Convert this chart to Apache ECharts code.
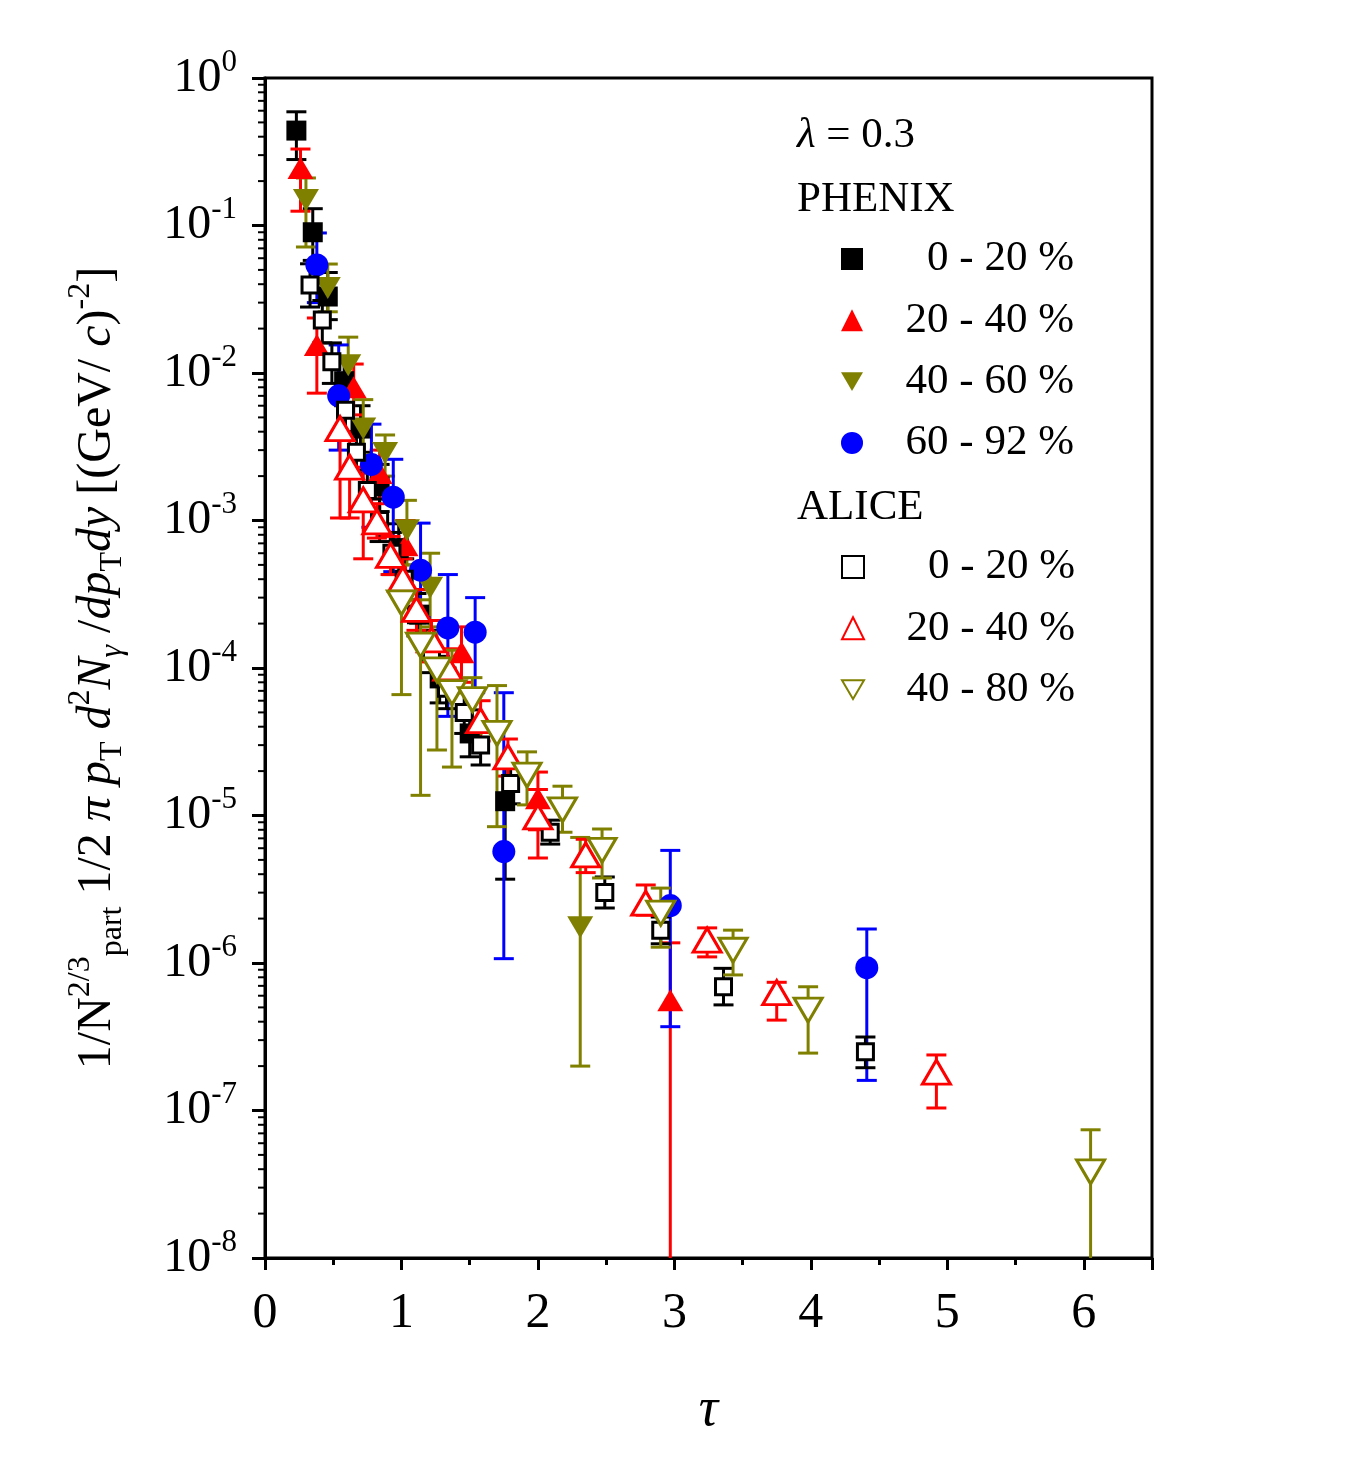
<!DOCTYPE html>
<html>
<head>
<meta charset="utf-8">
<script src="https://cdn.jsdelivr.net/npm/echarts@6/dist/echarts.min.js"></script>
<style>
  html, body { margin: 0; padding: 0; background: #fff; }
  #chart { width: 1361px; height: 1478px; }
</style>
</head>
<body>
<div id="chart"></div>
<script>
// rows: [tau, value, error low, error high]
var phenix0020 = [
  [0.23, 0.44, 0.28, 0.59],
  [0.35, 0.090, 0.058, 0.13],
  [0.46, 0.033, 0.023, 0.048],
  [0.58, 8.8e-3, 6.0e-3, 1.25e-2],
  [0.70, 4.2e-3, 2.9e-3, 6.0e-3],
  [0.84, 1.7e-3, 1.15e-3, 2.4e-3],
  [0.98, 6.5e-4, 4.4e-4, 9.5e-4],
  [1.13, 2.3e-4, 1.6e-4, 3.4e-4],
  [1.28, 8.5e-5, 5.8e-5, 1.2e-4],
  [1.50, 3.6e-5, 2.5e-5, 5.2e-5],
  [1.76, 1.25e-5, 3.7e-6, 2.1e-5]
]
var phenix2040 = [
  [0.26, 0.245, 0.125, 0.33],
  [0.38, 0.0155, 0.0073, 0.0236],
  [0.65, 8.0e-3, 5.2e-3, 1.15e-2],
  [0.84, 2.1e-3, 1.4e-3, 3.0e-3],
  [1.03, 6.8e-4, 4.4e-4, 1.0e-3],
  [1.44, 1.28e-4, 8.0e-5, 1.9e-4],
  [2.00, 1.31e-5, 8.0e-6, 1.97e-5],
  [2.97, 5.6e-7, 1e-8, 1.37e-6]
]
var phenix4060 = [
  [0.30, 0.149, 0.0715, 0.21],
  [0.46, 0.0377, 0.026, 0.0548],
  [0.61, 0.0113, 0.0075, 0.0175],
  [0.72, 4.2e-3, 2.8e-3, 6.6e-3],
  [0.88, 2.87e-3, 2.0e-3, 3.8e-3],
  [1.04, 8.6e-4, 5.0e-4, 1.37e-3],
  [1.21, 3.5e-4, 1.9e-4, 6.0e-4],
  [2.31, 1.75e-6, 2.0e-7, 7.1e-6]
]
var phenix6092 = [
  [0.38, 0.054, 0.03, 0.089],
  [0.54, 7.0e-3, 3.0e-3, 0.0155],
  [0.78, 2.4e-3, 9.0e-4, 4.5e-3],
  [0.94, 1.44e-3, 4.5e-4, 2.6e-3],
  [1.14, 4.6e-4, 2.2e-4, 9.6e-4],
  [1.34, 1.87e-4, 4.7e-5, 4.3e-4],
  [1.54, 1.75e-4, 6.8e-5, 3.0e-4],
  [1.75, 5.7e-6, 1.07e-6, 6.8e-5],
  [2.97, 2.45e-6, 3.7e-7, 5.8e-6],
  [4.41, 9.3e-7, 1.6e-7, 1.7e-6]
]
var alice0020 = [
  [0.33, 0.0395, 0.028, 0.055],
  [0.42, 0.0229, 0.016, 0.031],
  [0.49, 0.0119, 0.0085, 0.016],
  [0.59, 5.6e-3, 4.0e-3, 7.6e-3],
  [0.67, 2.9e-3, 2.1e-3, 4.0e-3],
  [0.75, 1.6e-3, 1.15e-3, 2.2e-3],
  [0.84, 1.0e-3, 7.2e-4, 1.4e-3],
  [0.93, 6.0e-4, 4.3e-4, 8.3e-4],
  [1.02, 4.0e-4, 2.9e-4, 5.5e-4],
  [1.11, 2.3e-4, 1.65e-4, 3.2e-4],
  [1.22, 1.3e-4, 9.3e-5, 1.8e-4],
  [1.33, 7.3e-5, 5.3e-5, 1.0e-4],
  [1.46, 5.0e-5, 3.6e-5, 6.8e-5],
  [1.58, 3.0e-5, 2.2e-5, 4.1e-5],
  [1.80, 1.65e-5, 1.2e-5, 2.2e-5],
  [2.09, 7.7e-6, 6.4e-6, 9.3e-6],
  [2.49, 3.0e-6, 2.36e-6, 3.83e-6],
  [2.90, 1.67e-6, 1.35e-6, 2.05e-6],
  [3.36, 6.9e-7, 5.2e-7, 9.2e-7],
  [4.40, 2.5e-7, 1.95e-7, 3.15e-7]
]
var alice2040 = [
  [0.55, 4.2e-3, 1.04e-3, 7.1e-3],
  [0.62, 2.3e-3, 1.04e-3, 4.0e-3],
  [0.72, 1.38e-3, 5.5e-4, 2.3e-3],
  [0.82, 9.8e-4, 7.6e-4, 1.3e-3],
  [0.92, 5.8e-4, 4.3e-4, 7.8e-4],
  [1.01, 4.0e-4, 2.9e-4, 5.5e-4],
  [1.11, 2.5e-4, 1.8e-4, 3.4e-4],
  [1.22, 1.55e-4, 1.1e-4, 2.1e-4],
  [1.34, 1.0e-4, 7.2e-5, 1.35e-4],
  [1.58, 4.4e-5, 3.2e-5, 6.0e-5],
  [1.78, 2.5e-5, 1.85e-5, 3.3e-5],
  [2.00, 9.8e-6, 5.15e-6, 1.5e-5],
  [2.35, 5.4e-6, 4.1e-6, 6.9e-6],
  [2.79, 2.55e-6, 2.11e-6, 3.38e-6],
  [3.24, 1.43e-6, 1.1e-6, 1.73e-6],
  [3.75, 6.3e-7, 4.1e-7, 7.4e-7],
  [4.92, 1.82e-7, 1.04e-7, 2.38e-7]
]
var alice4080 = [
  [1.00, 2.76e-4, 6.6e-5, 5.0e-4],
  [1.14, 1.43e-4, 1.37e-5, 2.9e-4],
  [1.26, 9.7e-5, 2.78e-5, 1.75e-4],
  [1.37, 6.8e-5, 2.13e-5, 1.32e-4],
  [1.52, 6.1e-5, 3.6e-5, 8.6e-5],
  [1.70, 3.6e-5, 8.4e-6, 7.6e-5],
  [1.92, 1.88e-5, 1.18e-5, 2.7e-5],
  [2.18, 1.09e-5, 7.7e-6, 1.58e-5],
  [2.47, 5.8e-6, 3.77e-6, 8.1e-6],
  [2.90, 2.18e-6, 1.28e-6, 3.22e-6],
  [3.43, 1.22e-6, 8.3e-7, 1.67e-6],
  [3.98, 4.8e-7, 2.45e-7, 6.9e-7],
  [6.05, 3.83e-8, 1e-8, 7.4e-8]
]
// minor ticks of the log axis (2..9 x 10^k)
var minorTickValues = []
for (var k = -8; k < 0; k++) {
  for (var m = 2; m <= 9; m++) minorTickValues.push([0, m * Math.pow(10, k)])
}

var yMin = 1e-8
var font = '"Liberation Serif", "DejaVu Serif", serif'
var downTri = 'path://M0,0L20,0L10,17Z'

var sets = [
  { name: 'PHENIX|0 - 20 %', data: phenix0020, color: '#000000', symbol: 'rect', size: 20, hollow: false, rot: 0 },
  { name: 'PHENIX|20 - 40 %', data: phenix2040, color: '#ff0000', symbol: 'triangle', size: [26, 22], hollow: false, rot: 0 },
  { name: 'PHENIX|40 - 60 %', data: phenix4060, color: '#808000', symbol: 'triangle', size: [26, 22], hollow: false, rot: 180 },
  { name: 'PHENIX|60 - 92 %', data: phenix6092, color: '#0000ff', symbol: 'circle', size: 23, hollow: false, rot: 0 },
  { name: 'ALICE|0 - 20 %', data: alice0020, color: '#000000', symbol: 'rect', size: 16, hollow: true, rot: 0 },
  { name: 'ALICE|20 - 40 %', data: alice2040, color: '#ff0000', symbol: 'triangle', size: [28, 24], hollow: true, rot: 0 },
  { name: 'ALICE|40 - 80 %', data: alice4080, color: '#808000', symbol: 'triangle', size: [28, 24], hollow: true, rot: 180 }
]

function errorBars (color) {
  return function (params, api) {
    var x = api.value(0)
    var lo = api.coord([x, api.value(2)])
    var hi = api.coord([x, api.value(3)])
    var half = 10
    var st = { stroke: color, lineWidth: 3 }
    var children = [
      { type: 'line', shape: { x1: lo[0], y1: lo[1], x2: hi[0], y2: hi[1] }, style: st },
      { type: 'line', shape: { x1: hi[0] - half, y1: hi[1], x2: hi[0] + half, y2: hi[1] }, style: st }
    ]
    if (api.value(2) > yMin) {
      children.push({ type: 'line', shape: { x1: lo[0] - half, y1: lo[1], x2: lo[0] + half, y2: lo[1] }, style: st })
    }
    return { type: 'group', children: children }
  }
}

var series = []
sets.forEach(function (s) {
  series.push({
    type: 'custom',
    name: s.name + ' err',
    data: s.data,
    encode: { x: 0, y: [1, 2, 3] },
    renderItem: errorBars(s.color),
    silent: true
  })
  series.push({
    type: 'scatter',
    name: s.name,
    data: s.data,
    encode: { x: 0, y: 1 },
    symbol: s.symbol,
    symbolSize: s.size,
    symbolRotate: s.rot,
    itemStyle: s.hollow
      ? { color: '#ffffff', borderColor: s.color, borderWidth: 3, opacity: 1 }
      : { color: s.color, opacity: 1 }
  })
})
series.push({
  type: 'custom',
  name: 'minor ticks',
  data: minorTickValues,
  encode: { x: 0, y: 1 },
  silent: true,
  renderItem: function (params, api) {
    var p = api.coord([0, api.value(1)])
    return { type: 'line', shape: { x1: p[0] - 7, y1: p[1], x2: p[0], y2: p[1] }, style: { stroke: '#000', lineWidth: 2 } }
  }
})

var legendText = {
  fontFamily: font,
  fontSize: 43,
  color: '#000',
  lineHeight: 44,
  rich: { r: { fontFamily: font, fontSize: 43, width: 206, align: 'right', lineHeight: 44 } }
}
function legendFmt (name) { return '{r|' + name.split('|')[1] + '}' }
function legendItem (s) {
  return s.rot === 180 ? { name: s.name, icon: downTri } : { name: s.name }
}

var supStyle = { fontFamily: font, fontSize: 32, lineHeight: 64, verticalAlign: 'top' }
var subStyle = { fontFamily: font, fontSize: 32, lineHeight: 64, verticalAlign: 'bottom' }
var mainStyle = { fontFamily: font, fontSize: 48, lineHeight: 64, verticalAlign: 'middle' }
var italStyle = { fontFamily: font, fontSize: 48, lineHeight: 64, verticalAlign: 'middle', fontStyle: 'italic' }

var option = {
  backgroundColor: '#fff',
  animation: false,
  grid: { left: 265, right: 209, top: 78, bottom: 220, show: true, borderColor: '#000', borderWidth: 3, backgroundColor: 'transparent' },
  xAxis: {
    type: 'value',
    min: 0,
    max: 6.5,
    interval: 1,
    name: 'τ',
    nameLocation: 'middle',
    nameGap: 126,
    nameTextStyle: { fontFamily: font, fontSize: 54, fontStyle: 'italic', color: '#000' },
    axisLine: { onZero: false, lineStyle: { color: '#000', width: 3 } },
    axisTick: { inside: false, length: 12, lineStyle: { color: '#000', width: 3 } },
    minorTick: { show: true, splitNumber: 2, length: 7, lineStyle: { color: '#000', width: 3 } },
    splitLine: { show: false },
    axisLabel: {
      margin: 31,
      fontFamily: font,
      fontSize: 50,
      color: '#000',
      formatter: function (v) { return v === 6.5 ? '' : String(v) }
    }
  },
  yAxis: {
    type: 'log',
    logBase: 10,
    min: yMin,
    max: 1,
    interval: 1,
    name: '{m|1/N}{sp|2/3}{sb|part}{m| 1/2 }{i|π p}{sb|T}{i| d}{sp|2}{i|N}{sbi|γ}{m| /}{i|dp}{sb|T}{i|dy}{m| [(GeV/ }{i|c}{m|)}{sp|-2}{m|]}',
    nameLocation: 'middle',
    nameRotate: 90,
    nameGap: 136,
    nameTextStyle: {
      fontFamily: font,
      fontSize: 48,
      color: '#000',
      rich: {
        m: mainStyle,
        i: italStyle,
        sp: supStyle,
        sb: subStyle,
        sbi: Object.assign({}, subStyle, { fontStyle: 'italic' })
      }
    },
    axisLine: { onZero: false, lineStyle: { color: '#000', width: 3 } },
    axisTick: { inside: false, length: 13, lineStyle: { color: '#000', width: 3 } },
    splitLine: { show: false },
    axisLabel: {
      margin: 28,
      color: '#000',
      formatter: function (v) {
        var e = Math.round(Math.log10(v))
        return '{b|10}{s|' + (e === 0 ? '0' : String(e)) + '}'
      },
      rich: {
        b: { fontFamily: font, fontSize: 48, lineHeight: 62, verticalAlign: 'middle', color: '#000' },
        s: { fontFamily: font, fontSize: 31, lineHeight: 62, verticalAlign: 'top', color: '#000' }
      }
    }
  },
  legend: [
    {
      orient: 'vertical',
      left: 836,
      top: 232,
      itemWidth: 22,
      itemHeight: 22,
      itemGap: 17.3,
      data: sets.slice(0, 4).map(legendItem),
      formatter: legendFmt,
      textStyle: legendText,
      selectedMode: false
    },
    {
      orient: 'vertical',
      left: 836,
      top: 540,
      itemWidth: 22,
      itemHeight: 22,
      itemGap: 17.3,
      data: sets.slice(4).map(legendItem),
      formatter: legendFmt,
      textStyle: legendText,
      selectedMode: false
    }
  ],
  graphic: [
    {
      type: 'text', left: 797, top: 114,
      style: {
        text: '{i|λ} = 0.3',
        font: '43px ' + font,
        fill: '#000',
        rich: { i: { fontFamily: font, fontSize: 43, fontStyle: 'italic' } }
      }
    },
    { type: 'text', left: 797, top: 178, style: { text: 'PHENIX', font: '43px ' + font, fill: '#000' } },
    { type: 'text', left: 797, top: 486, style: { text: 'ALICE', font: '43px ' + font, fill: '#000' } }
  ],
  series: series
}

var chart = echarts.init(document.getElementById('chart'))
chart.setOption(option)
</script>
</body>
</html>
